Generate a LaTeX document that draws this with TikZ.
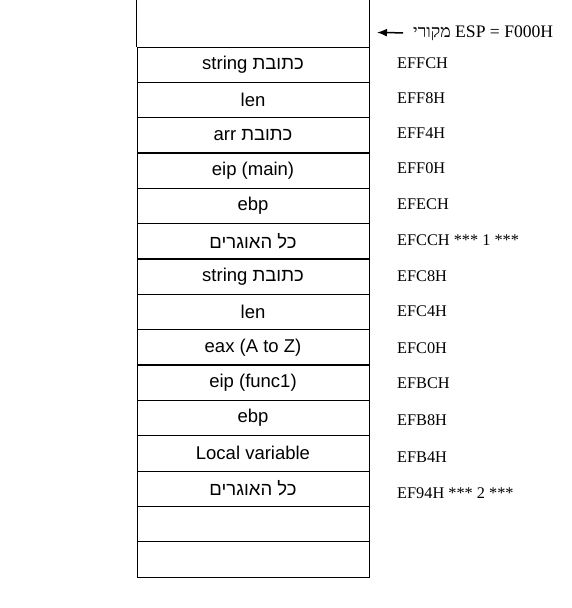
\documentclass[tikz,border=0pt]{standalone}
\usepackage{fontspec}
\usetikzlibrary{arrows.meta}
\TeXXeTstate=1
\newfontfamily\hebsans[Script=Hebrew]{Liberation Sans}
\newfontfamily\hebserif[Script=Hebrew]{Liberation Serif}
\newfontfamily\labserif{Liberation Serif}
\tikzset{
  cell/.style={draw, line width=1pt, minimum width=232pt, minimum height=35.33pt,
    inner sep=0pt, font=\hebsans\fontsize{18.5}{22}\selectfont},
  addr/.style={anchor=west, inner sep=0pt, font=\labserif\fontsize{16.3}{19}\selectfont},
  border/.style={line width=1pt}
}
\begin{document}
\begin{tikzpicture}[x=1pt,y=-1pt]
\useasboundingbox (0,0) rectangle (571,608);
% top open cell
\node[minimum width=232pt, minimum height=47pt, inner sep=0pt] (top) at (253,23.5) {};
\draw[border] (top.north west) -- (top.south west);
\draw[border] (top.north east) -- (top.south east);
% rows
\node[cell] (r1) at (253,64.67) {\beginR כתובת \beginL string\endL\endR};
\node[cell] (r2) at (253,100) {len};
\node[cell] (r3) at (253,135.33) {\beginR כתובת \beginL arr\endL\endR};
\node[cell] (r4) at (253,170.67) {eip (main)};
\node[cell] (r5) at (253,206) {ebp};
\node[cell] (r6) at (253,241.33) {\beginR כל האוגרים\endR};
\node[cell] (r7) at (253,276.67) {\beginR כתובת \beginL string\endL\endR};
\node[cell] (r8) at (253,312) {len};
\node[cell] (r9) at (253,347.33) {eax (A to Z)};
\node[cell] (r10) at (253,382.67) {eip (func1)};
\node[cell] (r11) at (253,418) {ebp};
\node[cell] (r12) at (253,453.33) {Local variable};
\node[cell] (r13) at (253,488.67) {\beginR כל האוגרים\endR};
\node[cell] (r14) at (253,524) {};
\node[cell] (r15) at (253,559.33) {};
% addresses
\node[addr] (a1) at (397,63) {EFFCH};
\node[addr] (a2) at (397,98.5) {EFF8H};
\node[addr] (a3) at (397,133.5) {EFF4H};
\node[addr] (a4) at (397,168.5) {EFF0H};
\node[addr] (a5) at (397,204) {EFECH};
\node[addr] (a6) at (397,240) {EFCCH *** 1 ***};
\node[addr] (a7) at (397,276) {EFC8H};
\node[addr] (a8) at (397,311.5) {EFC4H};
\node[addr] (a9) at (397,348) {EFC0H};
\node[addr] (a10) at (397,383.5) {EFBCH};
\node[addr] (a11) at (397,420) {EFB8H};
\node[addr] (a12) at (397,457) {EFB4H};
\node[addr] (a13) at (397,493) {EF94H *** 2 ***};
% ESP label and arrow
\node[addr, font=\labserif\fontsize{17.6}{20}\selectfont] (esp) at (413,33)
  {{\hebserif\beginR מקורי\endR} ESP = F000H};
\coordinate (tip) at (377,32.5);
\draw[line width=1.5pt, -{Latex[length=10pt,width=8pt]}, shorten <=10pt] (esp.west) -- (tip);
\end{tikzpicture}
\end{document}
